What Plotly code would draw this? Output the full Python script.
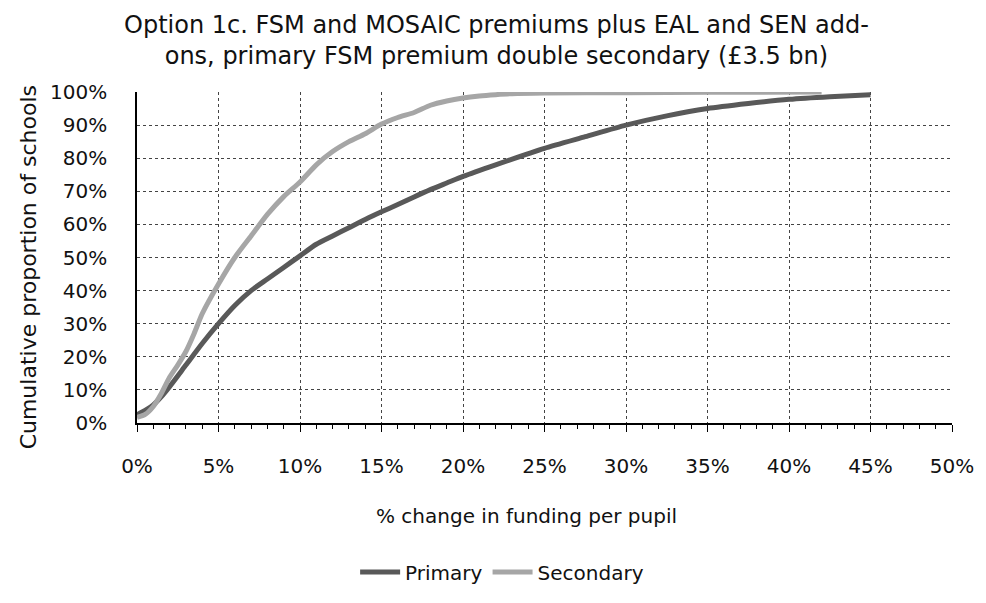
import plotly.graph_objects as go

primary_x = [0, 0.5, 1, 1.5, 2, 3, 4, 5, 6, 7, 8, 9, 10, 11, 12, 13, 14, 15, 16, 17, 18, 19, 20,
             22, 25, 27.5, 30, 32.5, 35, 37.5, 40, 42.5, 45]
primary_y = [2.5, 3.8, 5.5, 8, 11, 17.5, 24, 30, 35.5, 40, 43.5, 47, 50.5, 54, 56.5, 59, 61.5, 63.8,
             66, 68.3, 70.5, 72.5, 74.5, 78, 83, 86.5, 90, 92.8, 95, 96.5, 97.8, 98.6, 99.2]

secondary_x = [0, 0.5, 1, 1.5, 2, 2.5, 3, 3.5, 4, 5, 6, 7, 8, 9, 10, 11, 12, 13, 14, 15, 16, 17,
               18, 19, 20, 21, 22, 23, 25, 30, 35, 42]
secondary_y = [1.7, 2.6, 5, 9, 13.8, 17.5, 21.6, 27, 33, 42, 50, 56.5, 63, 68.4, 72.8, 78, 82, 85,
               87.4, 90.3, 92.3, 93.8, 96, 97.3, 98.2, 98.8, 99.2, 99.5, 99.7, 99.8, 99.9, 100]

title_text = ("Option 1c. FSM and MOSAIC premiums plus EAL and SEN add-<br>"
              "ons, primary FSM premium double secondary (£3.5 bn)")
x_title = "% change in funding per pupil"
y_title = "Cumulative proportion of schools"

FONT = "DejaVu Sans"
INK = "#111111"

fig = go.Figure()
fig.add_trace(go.Scatter(x=primary_x, y=primary_y, mode="lines", name="Primary",
                         line=dict(color="#595959", width=5, shape="spline", smoothing=0.6)))
fig.add_trace(go.Scatter(x=secondary_x, y=secondary_y, mode="lines", name="Secondary",
                         line=dict(color="#a6a6a6", width=5, shape="spline", smoothing=0.6)))

fig.update_layout(
    width=978, height=595,
    paper_bgcolor="white", plot_bgcolor="white",
    margin=dict(l=129, r=24, t=84, b=169),
    font=dict(family=FONT, size=20, color=INK),
    showlegend=True,
    legend=dict(orientation="h", x=0.448, xanchor="center", y=-0.45, yanchor="middle",
                font=dict(size=20), traceorder="normal", itemwidth=40),
    xaxis=dict(range=[0, 50], dtick=5, tick0=0, ticksuffix="%",
               showline=True, linecolor="black", linewidth=1.5,
               ticks="outside", ticklen=7, tickcolor="black",
               minor=dict(dtick=1, ticks="outside", ticklen=4, tickcolor="black", showgrid=False),
               showgrid=True, gridcolor="#444444", griddash="dot", gridwidth=1,
               zeroline=False, ticklabelstandoff=17, tickfont=dict(size=20)),
    yaxis=dict(range=[0, 100], dtick=10, tick0=0, ticksuffix="%",
               showline=True, linecolor="black", linewidth=1.5,
               ticks="", showgrid=True, gridcolor="#444444", griddash="dot", gridwidth=1,
               zeroline=False, ticklabelstandoff=24, tickfont=dict(size=20)),
)

fig.add_annotation(text=title_text, xref="paper", yref="paper",
                   x=0.441, y=1.157, xanchor="center", yanchor="middle", showarrow=False,
                   font=dict(size=24, color=INK))
fig.add_annotation(text=x_title, xref="paper", yref="paper",
                   x=0.4776, y=-0.28, xanchor="center", yanchor="middle", showarrow=False,
                   font=dict(size=20))
fig.add_annotation(text=y_title, xref="paper", yref="paper",
                   x=-0.133, y=0.469, xanchor="center", yanchor="middle", showarrow=False,
                   textangle=-90, font=dict(size=22))

fig.write_html("out.html")
